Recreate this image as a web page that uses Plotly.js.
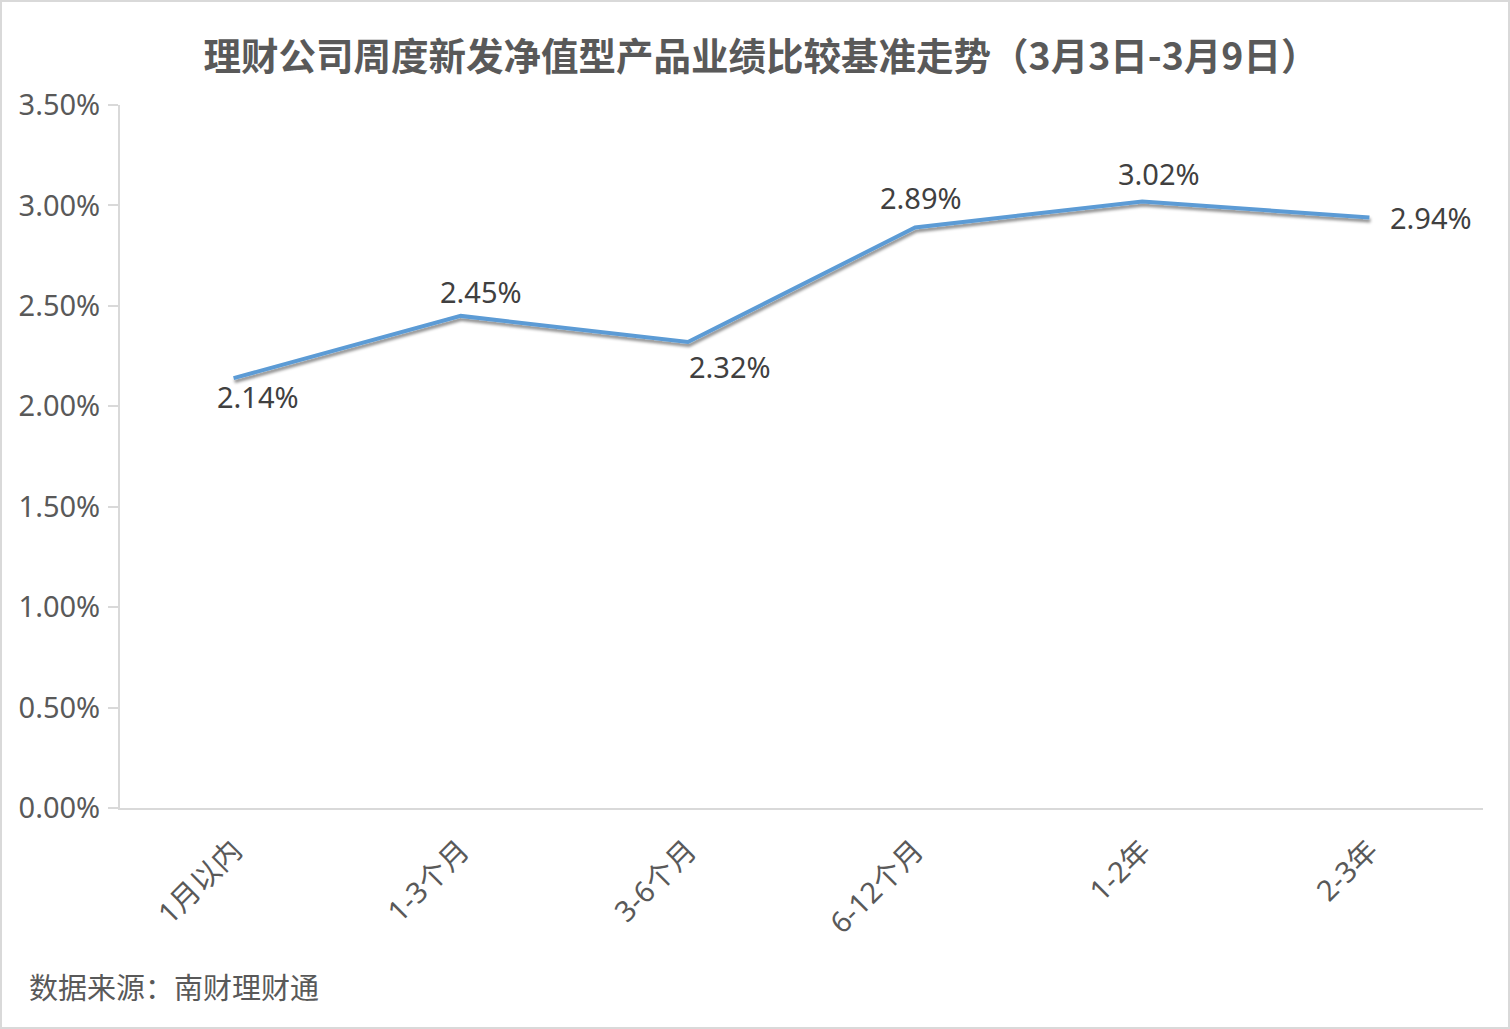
<!DOCTYPE html>
<html>
<head>
<meta charset="utf-8">
<script src="https://cdn.plot.ly/plotly-3.0.1.min.js"></script>
<style>
html,body{margin:0;padding:0;background:#fff;}
#wrap{width:1510px;height:1029px;box-sizing:border-box;border:2px solid #d9d9d9;overflow:hidden;}
#chart{width:1506px;height:1025px;}
</style>
</head>
<body>
<div id="wrap"><div id="chart"></div></div>
<script>
const categories = ['1月以内', '1-3个月', '3-6个月', '6-12个月', '1-2年', '2-3年'];
const benchmark = [0.0214, 0.0245, 0.0232, 0.0289, 0.0302, 0.0294];
const valueLabels = ['2.14%', '2.45%', '2.32%', '2.89%', '3.02%', '2.94%'];
const yTickVals = [0, 0.005, 0.01, 0.015, 0.02, 0.025, 0.03, 0.035];
const yTickText = ['0.00%', '0.50%', '1.00%', '1.50%', '2.00%', '2.50%', '3.00%', '3.50%'];

// label placement offsets (pixels) – style only
const labelShiftX = [24, 20, 42, 6, 17, 62];
const labelShiftY = [-18, 24, -24, 30, 28, 0];

const fontLatin = 'Noto Sans, Noto Sans CJK SC, sans-serif';

const trace = {
  type: 'scatter',
  mode: 'lines',
  x: categories,
  y: benchmark,
  line: {color: '#5B9BD5', width: 4},
  hoverinfo: 'skip'
};

const annotations = categories.map((c, i) => ({
  x: c, y: benchmark[i], xref: 'x', yref: 'y',
  text: valueLabels[i], showarrow: false,
  xshift: labelShiftX[i], yshift: labelShiftY[i],
  font: {family: fontLatin, size: 29, color: '#404040'}
}));
annotations.push({
  text: '数据来源：南财理财通', showarrow: false,
  xref: 'paper', yref: 'paper', x: -0.068, y: -0.253,
  xanchor: 'left', yanchor: 'middle',
  font: {family: 'Noto Sans CJK SC, sans-serif', size: 29, color: '#595959'}
});

const layout = {
  width: 1506, height: 1025,
  margin: {l: 118, r: 25, t: 103, b: 219},
  paper_bgcolor: '#ffffff', plot_bgcolor: '#ffffff',
  showlegend: false,
  title: {
    text: '理财公司周度新发净值型产品业绩比较基准走势（3月3日-3月9日）',
    xref: 'container', yref: 'container', x: 0.5 + 6/1506, y: 1 - 55/1025,
    xanchor: 'center', yanchor: 'middle',
    font: {family: 'Noto Sans CJK SC, sans-serif', size: 37.5, color: '#595959', weight: 'bold'}
  },
  xaxis: {
    type: 'category',
    range: [-0.5, categories.length - 0.5],
    showline: true, linecolor: '#d9d9d9', linewidth: 2,
    showgrid: false, zeroline: false, ticks: '',
    tickangle: -45,
    ticklabelstandoff: 12,
    tickfont: {family: fontLatin, size: 29, color: '#595959'},
    fixedrange: true
  },
  yaxis: {
    range: [0, 0.035],
    tickvals: yTickVals, ticktext: yTickText,
    showline: true, linecolor: '#d9d9d9', linewidth: 2,
    ticks: 'outside', ticklen: 10, tickcolor: '#d9d9d9', tickwidth: 2,
    showgrid: false, zeroline: false,
    tickfont: {family: fontLatin, size: 29, color: '#595959'},
    ticklabelstandoff: 2,
    fixedrange: true
  },
  annotations: annotations
};

Plotly.newPlot('chart', [trace], layout, {displayModeBar: false, staticPlot: true}).then(gd => {
  const svg = gd.querySelector('svg.main-svg');
  const ns = 'http://www.w3.org/2000/svg';
  let defs = svg.querySelector('defs');
  if (!defs) { defs = document.createElementNS(ns, 'defs'); svg.insertBefore(defs, svg.firstChild); }
  const f = document.createElementNS(ns, 'filter');
  f.setAttribute('id', 'lineShadow');
  f.setAttribute('filterUnits', 'userSpaceOnUse');
  f.setAttribute('x', '0'); f.setAttribute('y', '0');
  f.setAttribute('width', '1600'); f.setAttribute('height', '1100');
  const ds = document.createElementNS(ns, 'feDropShadow');
  ds.setAttribute('dx', '1'); ds.setAttribute('dy', '3');
  ds.setAttribute('stdDeviation', '1.8');
  ds.setAttribute('flood-color', '#000');
  ds.setAttribute('flood-opacity', '0.45');
  f.appendChild(ds);
  defs.appendChild(f);
  gd.querySelectorAll('.scatterlayer .js-line').forEach(p => p.setAttribute('filter', 'url(#lineShadow)'));
});
</script>
</body>
</html>
